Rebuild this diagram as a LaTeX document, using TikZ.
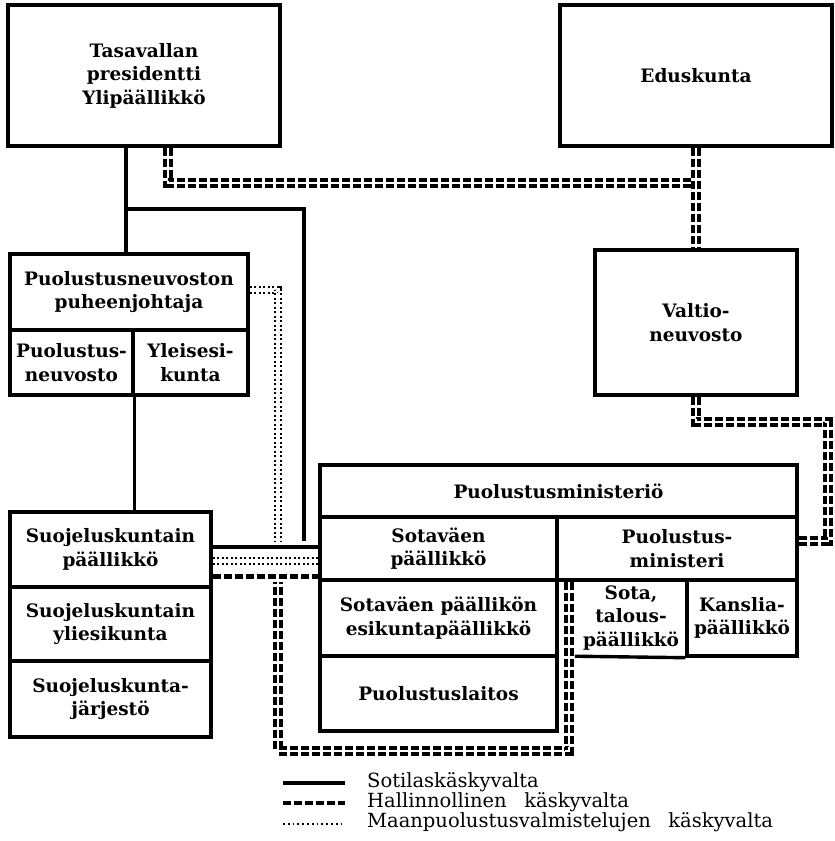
\documentclass[tikz,border=0pt]{standalone}
\usepackage{fontspec}
\setmainfont{DejaVu Serif}
\begin{document}
\begin{tikzpicture}[x=1pt,y=-1pt,
  boxtext/.style={font=\bfseries\fontsize{18.5}{23.5}\selectfont, align=center, inner sep=0pt},
  cell/.style={boxtext, draw, line width=3.4pt},
  frame/.style={line width=3.4pt},
  mil/.style={line width=3.4pt},
  adm/.style={double, double distance=2.8pt, line width=3.2pt, dash pattern=on 8pt off 3pt},
  admsingle/.style={line width=5pt, dash pattern=on 8pt off 3pt},
  prep/.style={double, double distance=3.5pt, line width=2pt, dash pattern=on 2pt off 2.5pt},
  prepsingle/.style={line width=1.8pt, dash pattern=on 1.8pt off 3pt},
  legtext/.style={font=\fontsize{19.5}{22}\selectfont, anchor=west, inner sep=0pt},
]
\newcommand\cellat[6]{%
  \node[cell, minimum width={#4-#2}, minimum height={#5-#3}] (#1)
    at ({(#2+#4)/2},{(#3+#5)/2}) {#6};}

\useasboundingbox (0,0) rectangle (835,841);

% --- boxes -------------------------------------------------------------
\cellat{pres}{8}{5}{280}{146}{Tasavallan\\presidentti\\Ylipäällikkö}
\cellat{edus}{560}{5}{832}{146}{Eduskunta}
\cellat{valt}{595}{250}{797}{395}{Valtio-\\neuvosto}

\cellat{pnpj}{10}{254}{248}{330}{Puolustusneuvoston\\puheenjohtaja}
\cellat{pnv}{10}{330}{133}{395}{Puolustus-\\neuvosto}
\cellat{yes}{133}{330}{248}{395}{Yleisesi-\\kunta}

\cellat{sk1}{10}{512}{211}{587}{Suojeluskuntain\\päällikkö}
\cellat{sk2}{10}{587}{211}{661}{Suojeluskuntain\\yliesikunta}
\cellat{sk3}{10}{661}{211}{737}{Suojeluskunta-\\järjestö}

\cellat{pm}{320}{465}{797}{517}{Puolustusministeriö}
\cellat{svp}{320}{517}{557}{580}{Sotaväen\\päällikkö}
\cellat{pmin}{557}{517}{797}{580}{Puolustus-\\ministeri}
\cellat{spe}{320}{580}{557}{656}{Sotaväen päällikön\\esikuntapäällikkö}
\cellat{pl}{320}{656}{557}{731}{Puolustuslaitos}
\node[boxtext, minimum width=112, minimum height=76] (sota) at (631,618)
  {Sota,\\talous-\\päällikkö};
\cellat{kans}{687}{580}{797}{656}{Kanslia-\\päällikkö}
\draw[frame] (sota.south west) -- (kans.south west);

% --- lanes and rows used by the connectors ------------------------------
\coordinate (laneA) at (126,0);
\coordinate (laneB) at (168,0);
\coordinate (laneC) at (304,0);
\coordinate (laneD) at (278,0);
\coordinate (laneE) at (569,0);
\coordinate (laneF) at (828,0);
\coordinate (laneG) at (692,0);
\coordinate (rowA) at (0,183);
\coordinate (rowB) at (0,209);
\coordinate (rowC) at (0,547);
\coordinate (rowD) at (0,561);
\coordinate (rowE) at (0,576);
\coordinate (rowF) at (0,751);
\coordinate (rowG) at (0,422);
\coordinate (rowH) at (0,541);
\coordinate (rowI) at (0,290);
\coordinate (rowJ) at (0,582);

% --- military command (solid) ------------------------------------------
\draw[mil] (pres.south -| laneA) -- (pnpj.north -| laneA);
\draw[mil] (rowB -| laneA) -| (laneC |- rowH);
\draw[mil] (sk1.east |- rowC) -- (svp.west |- rowC);
\draw[mil] (pnv.south east) -- (sk1.north -| pnv.south east);

% --- preparation command (dotted) --------------------------------------
\draw[prep] (pnpj.east |- rowI) -| (laneD |- rowH);
\draw[prep] (sk1.east |- rowD) -- (svp.west |- rowD);

% --- administrative command (dashed) -----------------------------------
\draw[adm] (pres.south -| laneB) |- (laneG |- rowA);
\draw[adm] (edus.south) -- (valt.north);
\draw[adm] (valt.south) |- (laneF |- rowG) -- (laneF |- rowH) -- (pmin.east |- rowH);
\draw[admsingle] (sk1.east |- rowE) -- (svp.west |- rowE);
\draw[adm] (laneE |- pmin.south) -- (laneE |- rowF) -- (laneD |- rowF) -- (laneD |- rowJ);

% --- legend ------------------------------------------------------------
\coordinate (lgA1) at (283,783); \coordinate (lgA2) at (345,783);
\coordinate (lgB1) at (283,803); \coordinate (lgB2) at (345,803);
\coordinate (lgC1) at (283,824); \coordinate (lgC2) at (345,824);
\draw[mil] (lgA1) -- (lgA2);
\draw[line width=4pt, dash pattern=on 8pt off 3pt] (lgB1) -- (lgB2);
\draw[prepsingle] (lgC1) -- (lgC2);
\node[legtext] (lgAt) at (367,782) {Sotilaskäskyvalta};
\node[legtext] (lgBt) at (367,802) {Hallinnollinen\hspace{0.9em}käskyvalta};
\node[legtext] (lgCt) at (367,822) {Maanpuolustusvalmistelujen\hspace{0.9em}käskyvalta};
\end{tikzpicture}
\end{document}
